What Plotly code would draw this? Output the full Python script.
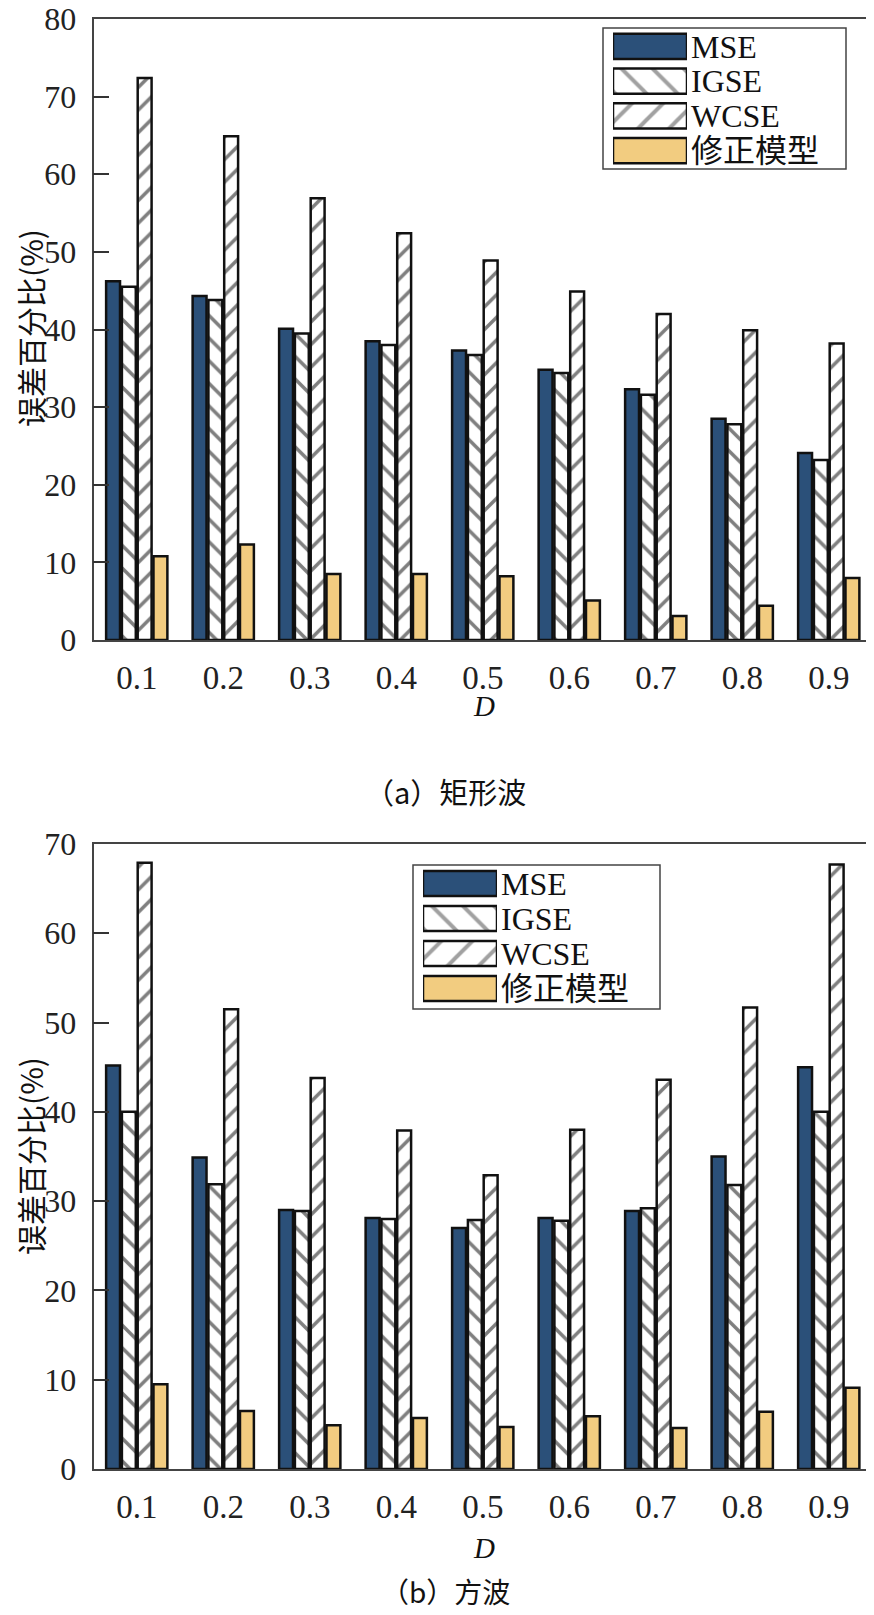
import plotly.graph_objs as go

# page is 874x1615; the html body keeps its default 8px margin,
# so the figure is drawn 8px in and made 8px smaller
PAGE_W, PAGE_H = 874, 1615
OFF = 8
W, H = PAGE_W - OFF, PAGE_H - OFF

duty = ["0.1", "0.2", "0.3", "0.4", "0.5", "0.6", "0.7", "0.8", "0.9"]
series = ["MSE", "IGSE", "WCSE", "修正模型"]

# (a) 矩形波
rect_mse = [46.2, 44.3, 40.1, 38.5, 37.3, 34.8, 32.3, 28.5, 24.1]
rect_igse = [45.5, 43.8, 39.5, 38.0, 36.7, 34.4, 31.6, 27.8, 23.2]
rect_wcse = [72.4, 64.9, 56.9, 52.4, 48.9, 44.9, 42.0, 39.9, 38.2]
rect_mod = [10.8, 12.3, 8.5, 8.5, 8.2, 5.1, 3.1, 4.4, 8.0]

# (b) 方波
sq_mse = [45.2, 34.9, 29.0, 28.1, 27.0, 28.1, 28.9, 35.0, 45.0]
sq_igse = [40.0, 31.9, 28.9, 28.0, 27.9, 27.8, 29.2, 31.8, 40.0]
sq_wcse = [67.9, 51.5, 43.8, 37.9, 32.9, 38.0, 43.6, 51.7, 67.7]
sq_mod = [9.5, 6.5, 4.9, 5.7, 4.7, 5.9, 4.6, 6.4, 9.1]

legend_len = [1, 1, 1, 1]

BLUE = "#2b5079"
TAN = "#f2cc80"
SERIF = "Liberation Serif, Times New Roman, Noto Sans CJK SC"
CJK = "Noto Sans CJK SC, Liberation Serif"


def px(v):
    # page pixel -> paper fraction
    return (v - OFF) / W


def py(v):
    return 1 - (v - OFF) / H


styles = [
    dict(color=BLUE, pattern=dict(shape="")),
    dict(color="white", pattern=dict(shape="\\", fgcolor="black", bgcolor="white", size=16, solidity=0.22)),
    dict(color="white", pattern=dict(shape="/", fgcolor="black", bgcolor="white", size=16, solidity=0.22)),
    dict(color=TAN, pattern=dict(shape="")),
]

fig = go.Figure()

for xa, ya, data in [("x", "y", [rect_mse, rect_igse, rect_wcse, rect_mod]),
                     ("x2", "y2", [sq_mse, sq_igse, sq_wcse, sq_mod])]:
    for name, vals, st in zip(series, data, styles):
        fig.add_trace(go.Bar(
            x=duty, y=vals, name=name, xaxis=xa, yaxis=ya,
            marker=dict(color=st["color"], pattern=st["pattern"],
                        line=dict(color="#111", width=2.5)),
            showlegend=False))

# legend swatches drawn as bars on small inset axes
for xa, ya in [("x3", "y3"), ("x4", "y4")]:
    fig.add_trace(go.Bar(
        x=legend_len, y=series, orientation="h", xaxis=xa, yaxis=ya, width=0.72,
        marker=dict(color=[BLUE, "white", "white", TAN],
                    pattern=dict(shape=["", "\\", "/", ""], fgcolor="black",
                                 bgcolor=[BLUE, "white", "white", TAN], size=22, solidity=0.18),
                    line=dict(color="#111", width=2.5)),
        showlegend=False))

xcommon = dict(type="category", range=[-0.5, 8.5], showline=True, mirror=True,
               linecolor="#444", linewidth=1.5, ticks="", showgrid=False, automargin=False,
               tickfont=dict(family=SERIF, size=33, color="#222"),
               ticklabelstandoff=8, ticklabeloverflow="allow")
ycommon = dict(showline=True, mirror=True, linecolor="#444", linewidth=1.5,
               ticks="inside", ticklen=16, tickwidth=1.5, tickcolor="#333",
               showgrid=False, zeroline=False, dtick=10, automargin=False,
               tickfont=dict(family=SERIF, size=32, color="#222"),
               ticklabelstandoff=9, ticklabeloverflow="allow")
legx = dict(range=[0, 1], visible=False, fixedrange=True, automargin=False)
legy = dict(type="category", categoryarray=series, range=[3.5, -0.5], side="right",
            tickmode="array", tickvals=series, ticktext=series, automargin=False,
            showline=False, ticks="", showgrid=False, zeroline=False,
            tickfont=dict(family=SERIF, size=32, color="#111"), ticklabelstandoff=3)

fig.update_layout(
    width=W, height=H,
    margin=dict(l=0, r=0, t=0, b=0),
    paper_bgcolor="white", plot_bgcolor="white",
    barmode="group", bargap=0.27, bargroupgap=0.12,
    xaxis=dict(xcommon, domain=[px(93.5), px(872)], anchor="y"),
    yaxis=dict(ycommon, domain=[py(640), py(19)], range=[0, 80], anchor="x"),
    xaxis2=dict(xcommon, domain=[px(93.5), px(872)], anchor="y2"),
    yaxis2=dict(ycommon, domain=[py(1469), py(844)], range=[0, 70], anchor="x2"),
    xaxis3=dict(legx, domain=[px(613), px(687)], anchor="y3"),
    yaxis3=dict(legy, domain=[py(168), py(29)], anchor="x3"),
    xaxis4=dict(legx, domain=[px(423), px(497)], anchor="y4"),
    yaxis4=dict(legy, domain=[py(1006), py(866)], anchor="x4"),
)

# legend frames
for x0, x1, y0, y1 in [(603, 846, 28, 169), (413, 660, 865, 1009)]:
    fig.add_shape(type="rect", xref="paper", yref="paper",
                  x0=px(x0), x1=px(x1), y0=py(y0), y1=py(y1),
                  line=dict(color="#444", width=1.5), fillcolor="rgba(0,0,0,0)")

notes = [
    ("误差百分比(%)", 30, 328, -90, CJK, 30),
    ("误差百分比(%)", 30, 1156, -90, CJK, 30),
    ("<i>D</i>", 484, 706, 0, SERIF, 29),
    ("<i>D</i>", 484, 1548, 0, SERIF, 29),
    ("（a）矩形波", 445, 791, 0, CJK, 29),
    ("（b）方波", 445, 1591, 0, CJK, 28),
]
for text, x, y, ang, fam, size in notes:
    fig.add_annotation(text=text, xref="paper", yref="paper", x=px(x), y=py(y),
                       xanchor="center", yanchor="middle", textangle=ang,
                       showarrow=False, font=dict(family=fam, size=size, color="#111"))

fig.write_html("out.html")
